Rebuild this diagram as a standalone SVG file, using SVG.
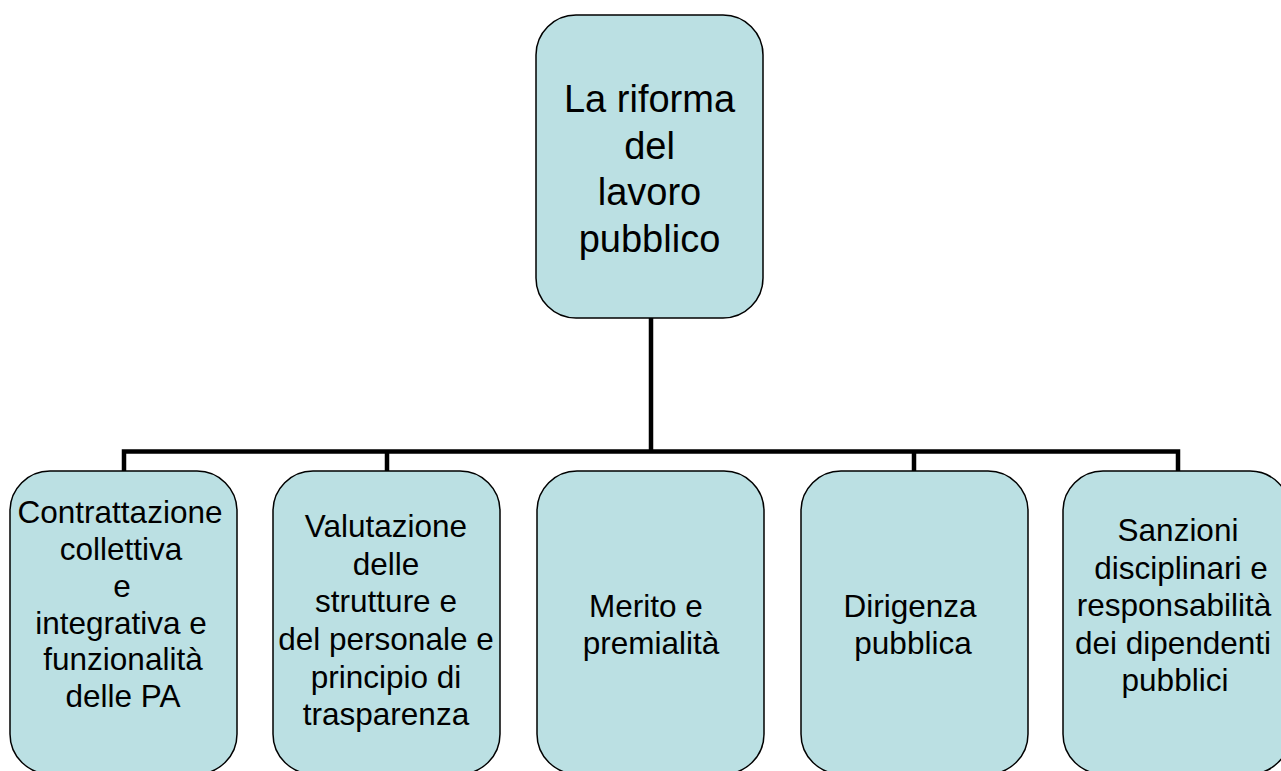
<svg xmlns="http://www.w3.org/2000/svg" width="1281" height="771" viewBox="0 0 1281 771">
<style>
.box{fill:#BBE0E3;stroke:#000;stroke-width:1.5}
.conn{fill:none;stroke:#000;stroke-width:4.5;stroke-linecap:square}
text{font-family:"Liberation Sans",Arial,sans-serif;fill:#000;text-anchor:middle}
.t{font-size:38px}
.b{font-size:31.5px}
</style>
<rect width="1281" height="771" fill="#fff"/>
<g id="connectors">
<path class="conn" d="M651 318 V451.5 M124 471 V451.5 H1178 V471 M387 451.5 V471 M914 451.5 V471"/>
</g>
<g id="root">
<rect class="box" x="536" y="15" width="227" height="303" rx="40"/>
<text class="t" x="649.5" y="112">La riforma</text>
<text class="t" x="649.5" y="158.5">del</text>
<text class="t" x="649.5" y="205">lavoro</text>
<text class="t" x="649.5" y="251.5">pubblico</text>
</g>
<g id="n1">
<rect class="box" x="10" y="471" width="227" height="303" rx="40"/>
<text class="b" x="120" y="523">Contrattazione</text>
<text class="b" x="121" y="560">collettiva</text>
<text class="b" x="122" y="597">e</text>
<text class="b" x="121" y="634">integrativa e</text>
<text class="b" x="123" y="670">funzionalità</text>
<text class="b" x="123" y="707">delle PA</text>
</g>
<g id="n2">
<rect class="box" x="273" y="471" width="227" height="303" rx="40"/>
<text class="b" x="386" y="537">Valutazione</text>
<text class="b" x="386" y="574.5">delle</text>
<text class="b" x="386" y="612">strutture e</text>
<text class="b" x="386" y="650">del personale e</text>
<text class="b" x="386" y="687.5">principio di</text>
<text class="b" x="386" y="725">trasparenza</text>
</g>
<g id="n3">
<rect class="box" x="537" y="471" width="227" height="303" rx="40"/>
<text class="b" x="646" y="617">Merito e</text>
<text class="b" x="651" y="654">premialità</text>
</g>
<g id="n4">
<rect class="box" x="801" y="471" width="227" height="303" rx="40"/>
<text class="b" x="910" y="617">Dirigenza</text>
<text class="b" x="913" y="654">pubblica</text>
</g>
<g id="n5">
<rect class="box" x="1063" y="471" width="227" height="303" rx="40"/>
<text class="b" x="1178" y="541">Sanzioni</text>
<text class="b" x="1181" y="578.5">disciplinari e</text>
<text class="b" x="1174" y="616">responsabilità</text>
<text class="b" x="1173" y="653.5">dei dipendenti</text>
<text class="b" x="1175" y="691">pubblici</text>
</g>
</svg>
